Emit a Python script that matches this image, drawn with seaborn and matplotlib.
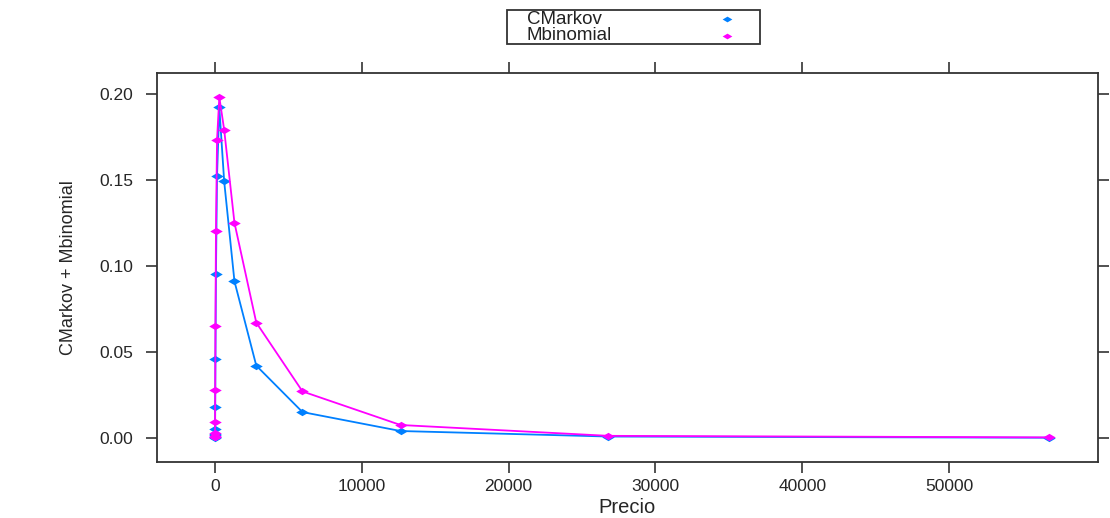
import numpy as np
import pandas as pd
import matplotlib
matplotlib.use("Agg")
import matplotlib.pyplot as plt
import seaborn as sns
from matplotlib.lines import Line2D
from matplotlib.patches import Rectangle

# price grid (shared by both models)
precio = [0.34, 0.72, 1.53, 3.25, 6.9, 14.6, 30.9, 65.6, 139, 295, 626,
          1326, 2812, 5961, 12638, 26792, 56800]
cmarkov = [0.0002, 0.0005, 0.0015, 0.0025, 0.005, 0.018, 0.046, 0.095, 0.152,
           0.192, 0.149, 0.091, 0.042, 0.015, 0.004, 0.0008, 0.0001]
mbinomial = [0.0003, 0.0006, 0.001, 0.003, 0.009, 0.028, 0.065, 0.120, 0.173,
             0.198, 0.179, 0.125, 0.067, 0.027, 0.0075, 0.0012, 0.0003]
series = ["CMarkov", "Mbinomial"]
colores = ["#0080ff", "#ff00ff"]

df = pd.DataFrame({
    "Precio": precio * 2,
    "valor": cmarkov + mbinomial,
    "serie": [series[0]] * len(precio) + [series[1]] * len(precio),
})

sns.set_style("white")
plt.rcParams["font.family"] = ["Liberation Sans", "DejaVu Sans"]

W, H = 1110, 518
fig = plt.figure(figsize=(W / 100, H / 100), dpi=100)
ax = fig.add_axes([157 / W, 1 - 462 / H, (1098 - 157) / W, (462 - 73) / H])

# horizontally stretched diamond, like the reference
rombo = [(-1.7, 0), (0, 1), (1.7, 0), (0, -1), (-1.7, 0)]

sns.lineplot(data=df, x="Precio", y="valor", hue="serie", palette=colores,
             hue_order=series, marker=rombo, markersize=9, markeredgewidth=0,
             linewidth=1.3, legend=False, ax=ax, sort=True)

ax.set_xlim(-3950, 60150)
ax.set_ylim(-0.014, 0.212)
xt = [0, 10000, 20000, 30000, 40000, 50000]
yt = [0.0, 0.05, 0.10, 0.15, 0.20]
ax.set_xticks(xt)
ax.set_yticks(yt)
ax.set_xticklabels([str(v) for v in xt], fontsize=12.5)
ax.set_yticklabels(["%.2f" % v for v in yt], fontsize=12.5)
ax.tick_params(axis="both", direction="out", length=8, width=1.2, color="#333333",
               bottom=True, left=True, top=True, right=True,
               labeltop=False, labelright=False, pad=4)
ax.tick_params(axis="y", pad=9)
for s in ax.spines.values():
    s.set_color("#333333")
    s.set_linewidth(1.3)

ax.set_xlabel("Precio", fontsize=14.5, labelpad=3)
ax.set_ylabel("CMarkov + Mbinomial", fontsize=13, labelpad=16)

# key drawn at the top, lattice style: text on the left, point on the right
fig.add_artist(Rectangle((507 / W, 1 - 44 / H), (760 - 507) / W, 34 / H,
                         transform=fig.transFigure, fill=False,
                         edgecolor="#333333", linewidth=1.3))
for i, (nombre, c) in enumerate(zip(series, colores)):
    yy = 1 - (19 + 17 * i) / H
    fig.text(527 / W, yy, nombre, fontsize=13.5, color="#222222",
             ha="left", va="center")
    fig.add_artist(Line2D([727 / W], [yy], transform=fig.transFigure,
                          linestyle="none", marker=rombo, markersize=7,
                          markeredgewidth=0, color=c))

fig.savefig("out.png", dpi=100)
